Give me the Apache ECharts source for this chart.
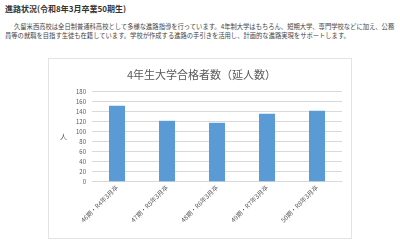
<!DOCTYPE html>
<html>
<head>
<meta charset="utf-8">
<script src="https://cdn.jsdelivr.net/npm/echarts@6/dist/echarts.min.js"></script>
<style>
  html, body { margin: 0; padding: 0; background: #fff; }
  body { width: 400px; height: 247px; position: relative; overflow: hidden;
         font-family: "Noto Sans CJK JP", sans-serif; color: #333; }
  .head { position: absolute; left: 5px; top: 3px; font-size: 8px; font-weight: bold; white-space: nowrap; }
  .para { position: absolute; font-size: 6.3px; white-space: nowrap; color: #444; }
  .box { position: absolute; left: 48px; top: 58px; width: 302px; height: 179px; border: 1px solid #e3e3e3; }
  #chart { position: absolute; left: 0; top: 0; width: 400px; height: 247px; }
</style>
</head>
<body>
<div class="head">進路状況(令和8年3月卒業50期生)</div>
<div class="para" style="left:14px; top:22px;">久留米西高校は全日制普通科高校として多様な進路指導を行っています。4年制大学はもちろん、短期大学、専門学校などに加え、公務</div>
<div class="para" style="left:5px; top:31px;">員等の就職を目指す生徒も在籍しています。学校が作成する進路の手引きを活用し、計画的な進路実現をサポートします。</div>
<div class="box"></div>
<div id="chart"></div>
<script>
const categories = ["46期・R4年3月卒", "47期・R5年3月卒", "48期・R6年3月卒", "49期・R7年3月卒", "50期・R8年3月卒"];
const passCounts = [151, 121, 117, 135, 141];
const titleText = "4年生大学合格者数（延人数）";
const yAxisName = "人";

const chart = echarts.init(document.getElementById("chart"));
const option = {
  animation: false,
  textStyle: { fontFamily: "Noto Sans CJK JP" },
  title: {
    text: titleText,
    left: 122,
    top: 64,
    textStyle: { fontSize: 11, fontWeight: "normal", color: "#595959" },
  },
  grid: { left: 92, right: 58, top: 91.3, bottom: 65.7 },
  xAxis: {
    type: "category",
    data: categories,
    axisLine: { lineStyle: { color: "#d9d9d9" } },
    axisTick: { show: false },
    axisLabel: { rotate: 45, fontSize: 6.3, color: "#595959", margin: 5, interval: 0 },
  },
  yAxis: {
    type: "value",
    min: 0,
    max: 180,
    interval: 20,
    name: yAxisName,
    nameLocation: "middle",
    nameRotate: 0,
    nameGap: 25,
    nameTextStyle: { fontSize: 7, color: "#595959" },
    axisLabel: { fontSize: 6, color: "#595959", margin: 6 },
    splitLine: { lineStyle: { color: "#d9d9d9" } },
  },
  series: [
    {
      type: "bar",
      data: passCounts,
      barWidth: 16,
      itemStyle: { color: "#5b9bd5" },
    },
  ],
};
chart.setOption(option);
</script>
</body>
</html>
